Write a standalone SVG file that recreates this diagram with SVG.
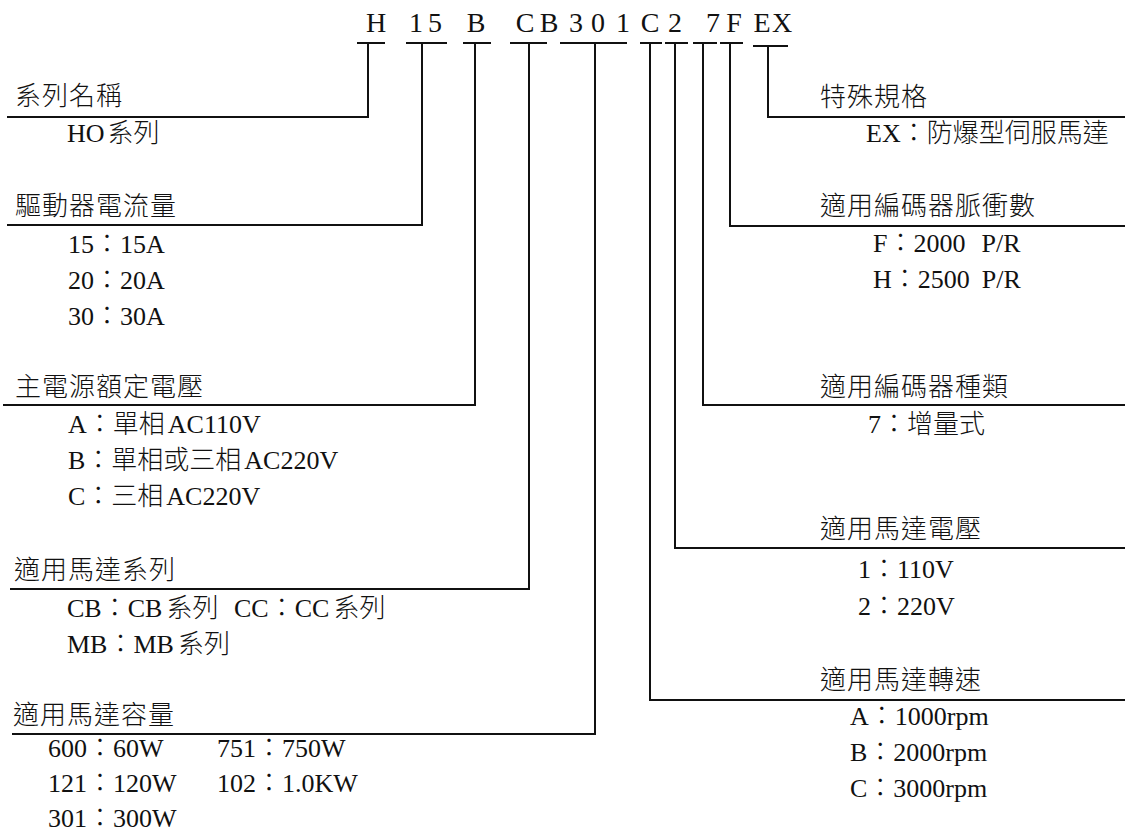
<svg xmlns="http://www.w3.org/2000/svg" width="1125" height="836" viewBox="0 0 1125 836">
<style>
text{font-family:"Liberation Serif","Noto Sans CJK TC",serif;font-size:26px;font-weight:300;fill:#111}
.hd{letter-spacing:1px}
.code{font-size:28px;text-anchor:middle}
.ln{fill:none;stroke:#111;stroke-width:2}
</style>
<rect width="1125" height="836" fill="#fff"/>
<g id="code">
<text class="code" x="376" y="32">H</text>
<text class="code" x="416" y="32">1</text>
<text class="code" x="435" y="32">5</text>
<text class="code" x="476" y="32">B</text>
<text class="code" x="525" y="32">C</text>
<text class="code" x="549" y="32">B</text>
<text class="code" x="576" y="32">3</text>
<text class="code" x="598" y="32">0</text>
<text class="code" x="623" y="32">1</text>
<text class="code" x="650" y="32">C</text>
<text class="code" x="675" y="32">2</text>
<text class="code" x="713" y="32">7</text>
<text class="code" x="734" y="32">F</text>
<text class="code" x="762" y="32">E</text>
<text class="code" x="782" y="32">X</text>
</g>
<g id="connectors">
<path class="ln" d="M357 43H385M368 43V117H7"/>
<path class="ln" d="M406 43H447M422 43V225H7"/>
<path class="ln" d="M463 43H491M475 43V405H3"/>
<path class="ln" d="M510 43H547M529 43V589H10"/>
<path class="ln" d="M560 43H627M595 43V734H12"/>
<path class="ln" d="M640 43H662M650 43V700H1125"/>
<path class="ln" d="M665 43H688M675 43V548H1125"/>
<path class="ln" d="M693 43H717M703 43V405H1125"/>
<path class="ln" d="M720 43H743M730 43V226H1125"/>
<path class="ln" d="M753 46H788M768 46V117H1125"/>
</g>
<g id="series-name">
<text class="hd" x="15" y="105">系列名稱</text>
<text x="67" y="142">HO<tspan dx="3">系列</tspan></text>
</g>
<g id="drive-current">
<text class="hd" x="15" y="215">驅動器電流量</text>
<text x="68" y="253">15：15A</text>
<text x="68" y="289">20：20A</text>
<text x="68" y="325">30：30A</text>
</g>
<g id="main-voltage">
<text class="hd" x="15" y="396">主電源額定電壓</text>
<text x="68" y="433">A：單相<tspan dx="3">AC110V</tspan></text>
<text x="68" y="469">B：單相或三相<tspan dx="3">AC220V</tspan></text>
<text x="68" y="505">C：三相<tspan dx="3">AC220V</tspan></text>
</g>
<g id="motor-series">
<text class="hd" x="14" y="579">適用馬達系列</text>
<text x="67" y="617">CB：CB<tspan dx="4">系列</tspan></text>
<text x="234" y="617">CC：CC<tspan dx="4">系列</tspan></text>
<text x="67" y="653">MB：MB<tspan dx="4">系列</tspan></text>
</g>
<g id="motor-capacity">
<text class="hd" x="13" y="724">適用馬達容量</text>
<text x="48" y="757">600：60W</text>
<text x="217" y="757">751：750W</text>
<text x="48" y="792">121：120W</text>
<text x="217" y="792">102：1.0KW</text>
<text x="48" y="827">301：300W</text>
</g>
<g id="special-spec">
<text class="hd" x="820" y="106">特殊規格</text>
<text x="866" y="142">EX：防爆型伺服馬達</text>
</g>
<g id="encoder-pulses">
<text class="hd" x="820" y="215">適用編碼器脈衝數</text>
<text x="873" y="252">F：2000<tspan dx="16">P/R</tspan></text>
<text x="873" y="288">H：2500<tspan dx="12">P/R</tspan></text>
</g>
<g id="encoder-type">
<text class="hd" x="820" y="396">適用編碼器種類</text>
<text x="868" y="433">7：增量式</text>
</g>
<g id="motor-voltage">
<text class="hd" x="820" y="538">適用馬達電壓</text>
<text x="858" y="578">1：110V</text>
<text x="858" y="615">2：220V</text>
</g>
<g id="motor-speed">
<text class="hd" x="820" y="689">適用馬達轉速</text>
<text x="850" y="725">A：1000rpm</text>
<text x="850" y="761">B：2000rpm</text>
<text x="850" y="797">C：3000rpm</text>
</g>
</svg>
